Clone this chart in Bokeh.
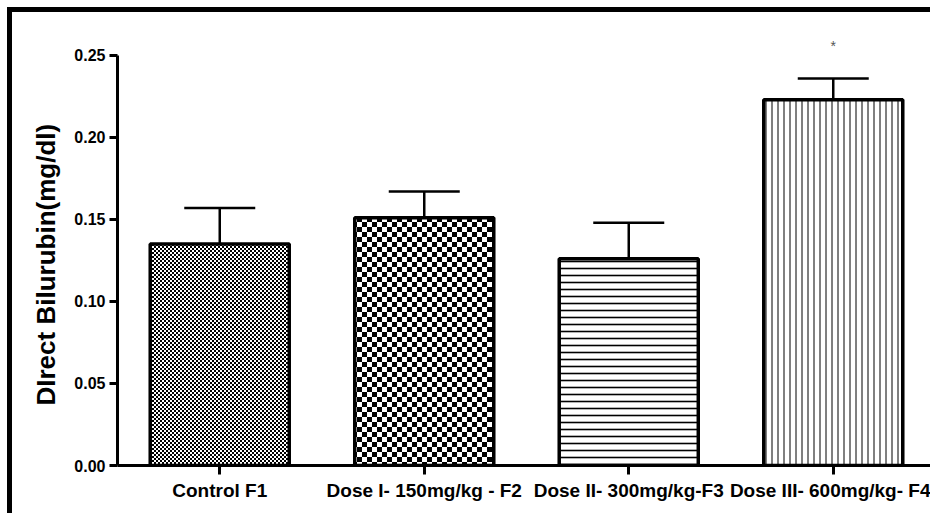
import base64, struct, zlib
from bokeh.plotting import figure
from bokeh.models import (ColumnDataSource, Whisker, TeeHead, FactorRange, Range1d,
                          FixedTicker, NumeralTickFormatter, ImageURLTexture, Title)
from bokeh.core.properties import value
from bokeh.embed import file_html
from bokeh.resources import INLINE

# ---- data ----
groups = ["Control F1", "Dose I- 150mg/kg - F2", "Dose II- 300mg/kg-F3", "Dose III- 600mg/kg- F4"]
means = [0.135, 0.151, 0.126, 0.223]
sems = [0.022, 0.016, 0.022, 0.013]
marks = ["", "", "", "*"]
y_ticks = [0.00, 0.05, 0.10, 0.15, 0.20, 0.25]
y_label = "DIrect Bilurubin(mg/dl)"

# ---- styling per bar ----
patterns = ["fine_check", "coarse_check", "horizontal_line", "vertical_line"]
hscales = [4, 10, 7, 6]
hweights = [1, 1, 1.6, 1]


def checker_png(cell):
    """Tiny greyscale PNG tile of a 2x2 checkerboard with given cell size."""
    n = cell * 2
    raw = b"".join(b"\x00" + bytes(0 if ((x // cell) + (y // cell)) % 2 == 0 else 255
                                   for x in range(n)) for y in range(n))

    def chunk(tag, data):
        return (struct.pack(">I", len(data)) + tag + data +
                struct.pack(">I", zlib.crc32(tag + data) & 0xffffffff))
    png = (b"\x89PNG\r\n\x1a\n" + chunk(b"IHDR", struct.pack(">IIBBBBB", n, n, 8, 0, 0, 0, 0)) +
           chunk(b"IDAT", zlib.compress(raw)) + chunk(b"IEND", b""))
    return "data:image/png;base64," + base64.b64encode(png).decode()


upper = [m + s for m, s in zip(means, sems)]
src = ColumnDataSource(dict(group=groups, mean=means, upper=upper, mark=marks,
                            pattern=patterns, hscale=hscales, hweight=hweights))

extra = {"fine_check": ImageURLTexture(url=checker_png(2)),
         "coarse_check": ImageURLTexture(url=checker_png(5))}

p = figure(x_range=FactorRange(factors=groups), y_range=Range1d(0, 0.2713),
           width=923, height=506, output_backend="svg", toolbar_location=None,
           min_border_left=105, min_border_right=0, min_border_top=8, min_border_bottom=53)
p.styles = {"margin-left": "7px", "margin-top": "7px",
            "border-left": "5px solid black", "border-top": "5px solid black"}
p.outline_line_color = None
p.xgrid.grid_line_color = None
p.ygrid.grid_line_color = None
p.background_fill_color = "white"
p.border_fill_color = "white"

p.vbar(x="group", top="mean", width=0.68, source=src, fill_color="white",
       line_color="black", line_width=3.5,
       hatch_pattern="pattern", hatch_scale="hscale", hatch_weight="hweight",
       hatch_color="black", hatch_extra=extra)

wh = Whisker(base="group", upper="upper", lower="mean", source=src,
             line_color="black", line_width=2.5, lower_head=None,
             upper_head=TeeHead(size=71, line_width=2.5, line_color="black"),
             level="overlay")
p.add_layout(wh)

p.text(x="group", y="upper", text="mark", source=src, y_offset=-32,
       text_align="center", text_baseline="middle", text_color="#555555",
       text_font_size="14px", text_font=value("Liberation Sans"))

font = "Liberation Sans"
# y axis
ya = p.yaxis[0]
ya.ticker = FixedTicker(ticks=y_ticks)
ya.formatter = NumeralTickFormatter(format="0.00")
ya.bounds = (y_ticks[0], y_ticks[-1])
ya.axis_line_width = 3
ya.major_tick_line_width = 3
ya.major_tick_out = 8
ya.major_tick_in = 0
ya.minor_tick_line_color = None
ya.major_label_text_font = font
ya.major_label_text_font_style = "bold"
ya.major_label_text_font_size = "16px"
ya.major_label_text_color = "black"
ya.major_label_standoff = 4

# y axis title as a left-side title, started a little above the frame bottom
p.add_layout(Title(text=y_label, align="left", offset=60, standoff=22,
                   text_font=font, text_font_style="bold", text_font_size="26px",
                   text_color="black"), "left")

# x axis
xa = p.xaxis[0]
xa.axis_line_width = 3
xa.major_tick_line_width = 3
xa.major_tick_out = 9
xa.major_tick_in = 0
xa.major_label_text_font = font
xa.major_label_text_font_style = "bold"
xa.major_label_text_font_size = "19px"
xa.major_label_text_color = "black"
xa.major_label_standoff = 5

open("out.html", "w").write(file_html(p, INLINE))
